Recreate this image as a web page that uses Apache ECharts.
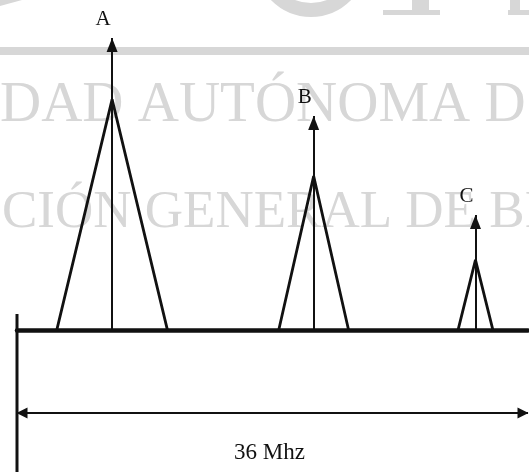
<!DOCTYPE html>
<html>
<head>
<meta charset="utf-8">
<style>
  html, body { margin: 0; padding: 0; background: #fff; }
  #chart { width: 529px; height: 472px; }
</style>
<script src="https://cdn.jsdelivr.net/npm/echarts@6/dist/echarts.min.js"></script>
</head>
<body>
<div id="chart"></div>
<script>
// carriers inside the 36 MHz transponder band
const carriers = ['A', 'B', 'C'];
const centerFreqs = [6.7, 20.9, 32.3];     // MHz
const halfWidths = [3.9, 2.46, 1.23];      // MHz, half of the triangle base
const peakLevels = [0.79, 0.527, 0.24];    // triangle apex (relative level)
const arrowLevels = [1.0, 0.733, 0.394];   // carrier arrow tip (relative level)
const bandWidth = 36;                      // MHz
const bandLabel = bandWidth + ' Mhz';
const dimLevel = -0.284;                   // level of the 36 Mhz dimension line
const edgeMarker = [0.055, -0.486];        // left band edge mark

const chart = echarts.init(document.getElementById('chart'));
const ink = '#111';
const serif = '"Liberation Serif", "DejaVu Serif", serif';
const wm = '#d7d7d7';

const carrierSeries = carriers.map((name, i) => ({
  name: name,
  type: 'line',
  symbol: 'none',
  silent: true,
  lineStyle: { color: ink, width: 2.8 },
  data: [
    [centerFreqs[i] - halfWidths[i], 0],
    [centerFreqs[i], peakLevels[i]],
    [centerFreqs[i] + halfWidths[i], 0]
  ],
  markLine: {
    silent: true,
    animation: false,
    symbol: ['none', 'triangle'],
    symbolSize: [11, 14],
    symbolOffset: [0, [0, 7]],
    lineStyle: { color: ink, width: 2, type: 'solid' },
    label: {
      show: true,
      position: 'end',
      formatter: name,
      fontFamily: serif,
      fontSize: 21,
      color: ink,
      distance: 8,
      offset: [-9, 0]
    },
    data: [[{ coord: [centerFreqs[i], 0] }, { coord: [centerFreqs[i], arrowLevels[i]] }]]
  }
}));

const option = {
  animation: false,
  grid: { left: 17, right: 1, top: 0, bottom: 0, outerBoundsMode: 'none' },
  xAxis: {
    type: 'value',
    min: 0,
    max: bandWidth,
    axisLine: { show: true, onZero: true, lineStyle: { color: ink, width: 4.5 } },
    axisTick: { show: false },
    axisLabel: { show: false },
    splitLine: { show: false }
  },
  yAxis: {
    type: 'value',
    min: -0.486,
    max: 1.13,
    show: false
  },
  graphic: [
    { type: 'rect', z: -10, silent: true, shape: { x: 0, y: 47, width: 529, height: 8 }, style: { fill: wm } },
    { type: 'arc', z: -10, silent: true, shape: { cx: 311, cy: -39, r: 49, startAngle: 0, endAngle: Math.PI }, style: { stroke: wm, lineWidth: 14, fill: null } },
    { type: 'rect', z: -10, silent: true, shape: { x: 383, y: 10, width: 57, height: 5 }, style: { fill: wm } },
    { type: 'rect', z: -10, silent: true, shape: { x: 412, y: 0, width: 17, height: 10 }, style: { fill: wm } },
    { type: 'rect', z: -10, silent: true, shape: { x: 508, y: 10, width: 21, height: 5 }, style: { fill: wm } },
    { type: 'rect', z: -10, silent: true, shape: { x: 510, y: 0, width: 10, height: 10 }, style: { fill: wm } },
    { type: 'polygon', z: -10, silent: true, shape: { points: [[0, 0], [22, 0], [0, 6]] }, style: { fill: wm } },
    {
      type: 'text', z: -10, silent: true, x: 0, y: 106,
      style: { text: 'DAD AUTÓNOMA D', font: '57px "Liberation Serif"', fill: wm, align: 'left', verticalAlign: 'middle' }
    },
    {
      type: 'text', z: -10, silent: true, x: 2, y: 213,
      style: { text: 'CIÓN GENERAL DE BI', font: '53px "Liberation Serif"', fill: wm, align: 'left', verticalAlign: 'middle' }
    }
  ],
  series: carrierSeries.concat([
    {
      name: 'edge',
      type: 'line',
      symbol: 'none',
      silent: true,
      clip: false,
      lineStyle: { color: ink, width: 3 },
      data: [[0, edgeMarker[0]], [0, edgeMarker[1]]]
    },
    {
      name: 'band',
      type: 'line',
      symbol: 'none',
      silent: true,
      data: [],
      markLine: {
        silent: true,
        animation: false,
        symbol: ['triangle', 'triangle'],
        symbolSize: 11,
        symbolOffset: [[0, 5], [0, 5]],
        lineStyle: { color: ink, width: 2, type: 'solid' },
        label: {
          show: true,
          position: 'insideMiddleBottom',
          formatter: bandLabel,
          fontFamily: serif,
          fontSize: 23,
          color: ink,
          distance: 28,
          offset: [-3, 0]
        },
        data: [[{ coord: [0, dimLevel] }, { coord: [bandWidth, dimLevel] }]]
      }
    }
  ])
};

chart.setOption(option);
window.addEventListener('resize', () => chart.resize());
</script>
</body>
</html>
